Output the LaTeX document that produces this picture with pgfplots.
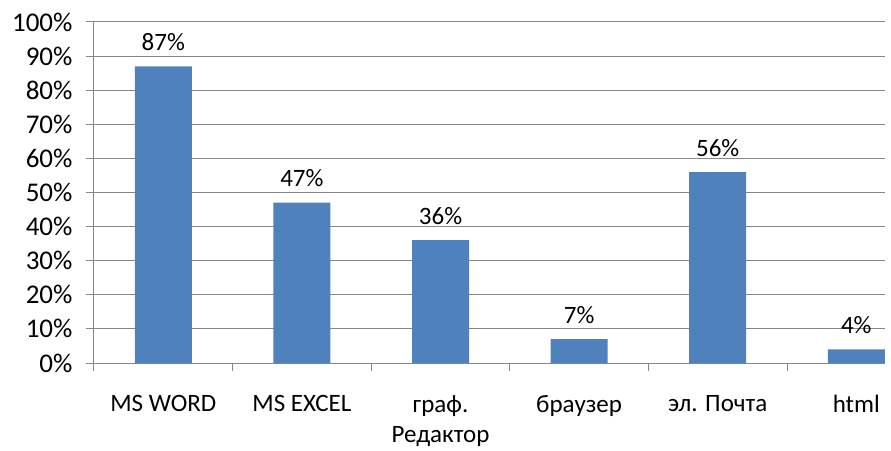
\documentclass[border=0pt]{standalone}
\usepackage{pgfplots}
\pgfplotsset{compat=1.18}
\usepackage{fontspec}
\setmainfont{Carlito}
\definecolor{barblue}{HTML}{4F81BD}
\definecolor{axgray}{HTML}{868686}
\begin{document}
\begin{tikzpicture}
\path[use as bounding box] (-94pt,-87pt) rectangle (797pt,363pt);
\begin{axis}[
    at={(0pt,0pt)}, anchor=south west,
    scale only axis, width=791pt, height=341pt,
    xmin=-0.5, xmax=5.207, ymin=0, ymax=100,
    axis x line*=bottom, axis y line*=left,
    axis line style={axgray, line width=1pt, -},
    ybar, bar width=57pt,
    ytick={0,10,...,100},
    yticklabel={\pgfmathprintnumber{\tick}\%},
    xtick={0,...,5},
    xticklabels={MS WORD, MS EXCEL, {граф.\\Редактор}, браузер, эл. Почта, html},
    major x tick style={draw=none},
    minor xtick={-0.5,0.5,...,4.5},
    tick align=outside, major tick length=8pt, minor tick length=8pt,
    tick style={axgray, line width=1pt},
    ymajorgrids, grid style={axgray, line width=1pt},
    /pgf/number format/assume math mode=true,
    tick label style={font=\fontsize{25}{30}\selectfont, black},
    yticklabel style={xshift=-10pt, font=\fontsize{27}{33}\selectfont},
    xticklabel style={align=center, yshift=-21pt},
    nodes near coords={\pgfmathprintnumber{\pgfplotspointmeta}\%},
    every node near coord/.append style={font=\fontsize{25}{30}\selectfont, black, yshift=12pt},
]
\addplot[fill=barblue, draw=none] coordinates {(0,87) (1,47) (2,36) (3,7) (4,56) (5,4)};
\end{axis}
\end{tikzpicture}
\end{document}
